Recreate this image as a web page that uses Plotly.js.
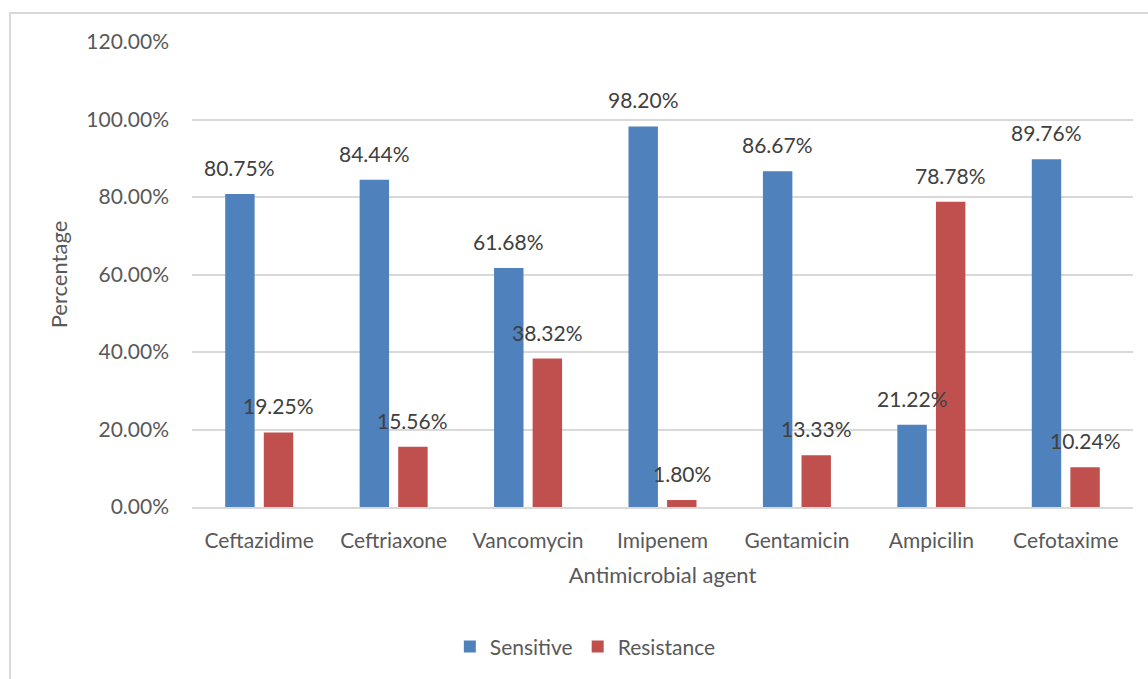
<!DOCTYPE html>
<html>
<head>
<meta charset="utf-8">
<script src="https://cdn.plot.ly/plotly-3.0.1.min.js"></script>
<style>
  html, body { margin: 0; padding: 0; background: #fff; overflow: hidden; }
  #wrap { position: relative; width: 1148px; height: 679px; }
  #chart { width: 1148px; height: 679px; }
  #frame { position: absolute; left: 9px; top: 12px; width: 1200px; height: 700px;
           border-left: 2px solid #D9D9D9; border-top: 2px solid #D9D9D9; pointer-events: none; }
</style>
</head>
<body>
<div id="wrap">
  <div id="chart"></div>
  <div id="frame"></div>
</div>
<script>
const categories = ['Ceftazidime', 'Ceftriaxone', 'Vancomycin', 'Imipenem', 'Gentamicin', 'Ampicilin', 'Cefotaxime'];
const sensitive = [0.8075, 0.8444, 0.6168, 0.9820, 0.8667, 0.2122, 0.8976];
const resistance = [0.1925, 0.1556, 0.3832, 0.0180, 0.1333, 0.7878, 0.1024];
const seriesNames = ['Sensitive', 'Resistance'];

const BLUE = '#4F81BD', RED = '#C0504D';
const FONT = 'Lato, "Open Sans", sans-serif';

const traces = [
  { type: 'bar', name: seriesNames[0], x: categories, y: sensitive,
    marker: { color: BLUE }, hoverinfo: 'none' },
  { type: 'bar', name: seriesNames[1], x: categories, y: resistance,
    marker: { color: RED }, hoverinfo: 'none' }
];

const fmt = v => (v * 100).toFixed(2) + '%';
const labelAnn = (vals, shift) => vals.map((v, i) => ({
  x: categories[i], y: v, xref: 'x', yref: 'y',
  text: fmt(v), showarrow: false, xanchor: 'center', yanchor: 'bottom',
  xshift: shift, yshift: 12,
  font: { family: FONT, size: 21, color: '#404040' }
}));

const layout = {
  width: 1148, height: 679,
  margin: { l: 192, r: 15, t: 42, b: 172 },
  paper_bgcolor: '#fff', plot_bgcolor: '#fff',
  font: { family: FONT, size: 21, color: '#595959' },
  barmode: 'group', bargap: 0.426, bargroupgap: 0.237,
  showlegend: true,
  legend: { orientation: 'h', x: 0.418, xanchor: 'center', y: -0.301, yanchor: 'middle',
            font: { family: FONT, size: 21, color: '#595959' }, itemwidth: 30, traceorder: 'normal' },
  xaxis: {
    type: 'category', showgrid: false, showline: true, linecolor: '#D9D9D9', linewidth: 2,
    ticks: '', ticklabelstandoff: 14, tickfont: { family: FONT, size: 21, color: '#595959' },
    title: { text: 'Antimicrobial agent', standoff: 16, font: { family: FONT, size: 22, color: '#595959' } },
    fixedrange: true
  },
  yaxis: {
    range: [0, 1.2], dtick: 0.2, tick0: 0, tickformat: '.2%',
    showgrid: true, gridcolor: '#D9D9D9', gridwidth: 2,
    zeroline: false, showline: false, ticks: '', ticklabelstandoff: 22,
    tickfont: { family: FONT, size: 21, color: '#595959' },
    title: { text: 'Percentage', standoff: 12, font: { family: FONT, size: 22, color: '#595959' } },
    fixedrange: true
  },
  annotations: [...labelAnn(sensitive, -19.3), ...labelAnn(resistance, 19.3)]
};

Plotly.newPlot('chart', traces, layout, { displayModeBar: false, staticPlot: true });
</script>
</body>
</html>
